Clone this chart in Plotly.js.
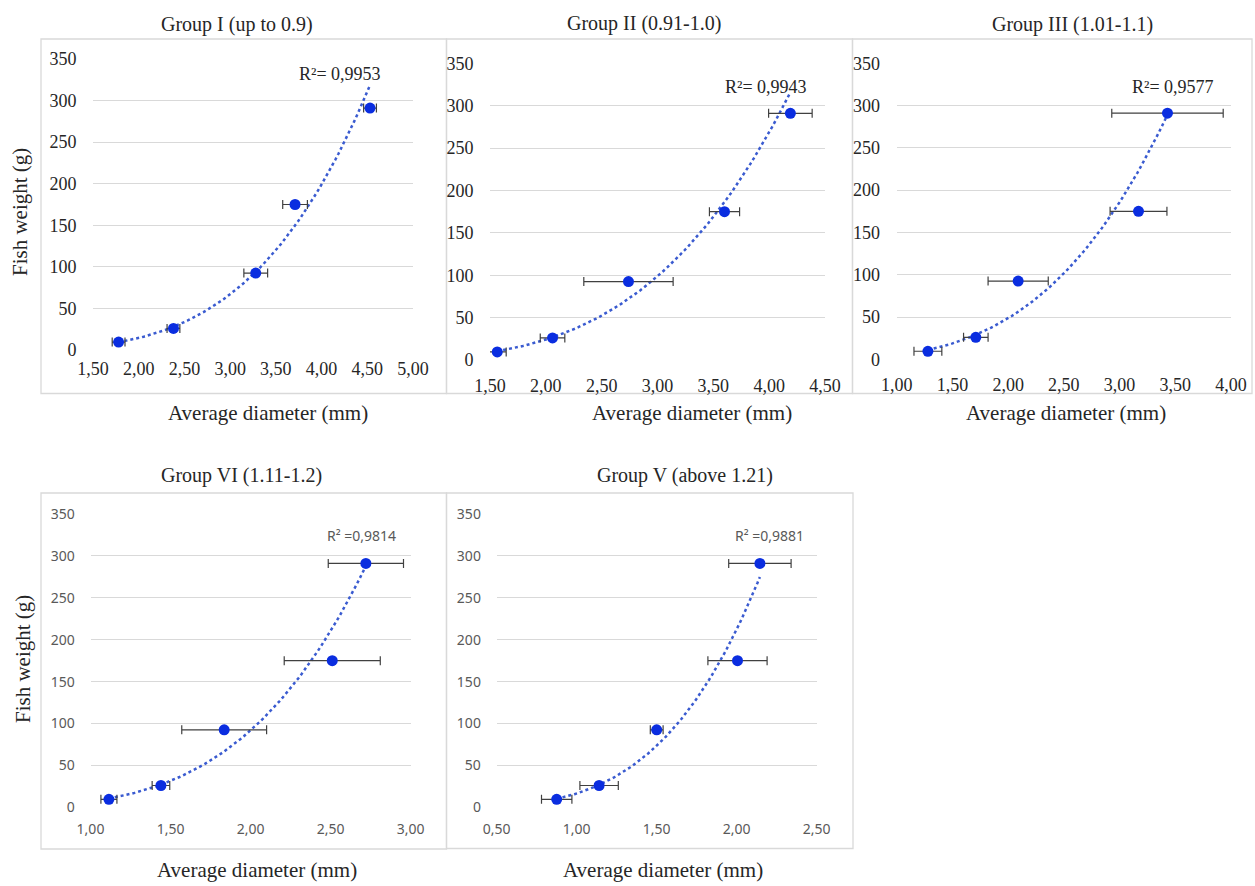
<!DOCTYPE html>
<html>
<head>
<meta charset="utf-8">
<script src="https://cdn.plot.ly/plotly-3.0.1.min.js"></script>
<style>html,body{margin:0;padding:0;background:#fff;}#chart{width:1255px;height:886px;}</style>
</head>
<body>
<div id="chart"></div>
<script>
// ---- data ----
const panelTitles = ["Group I (up to 0.9)", "Group II (0.91-1.0)", "Group III (1.01-1.1)", "Group VI (1.11-1.2)", "Group V (above 1.21)"];
const r2Labels = ["R²= 0,9953", "R²= 0,9943", "R²= 0,9577", "R² =0,9814", "R² =0,9881"];
const fishWeight = [9.5, 26, 92.5, 175, 291];
const diamI   = [1.78, 2.38, 3.28, 3.71, 4.53];
const errI    = [0.07, 0.07, 0.13, 0.135, 0.07];
const diamII  = [1.565, 2.06, 2.74, 3.60, 4.19];
const errII   = [0.08, 0.11, 0.40, 0.135, 0.195];
const diamIII = [1.28, 1.71, 2.09, 3.17, 3.43];
const errIII  = [0.125, 0.11, 0.27, 0.255, 0.50];
const diamVI  = [1.115, 1.44, 1.835, 2.51, 2.72];
const errVI   = [0.05, 0.055, 0.265, 0.30, 0.235];
const diamV   = [0.875, 1.14, 1.50, 2.005, 2.145];
const errV    = [0.095, 0.12, 0.04, 0.185, 0.195];
const xRanges = [[1.5, 5.0], [1.5, 4.5], [1.0, 4.0], [1.0, 3.0], [0.5, 2.5]];
const yRange = [0, 350];
const xTitle = "Average diameter (mm)";
const yTitle = "Fish weight (g)";

const diams = [diamI, diamII, diamIII, diamVI, diamV];
const errs = [errI, errII, errIII, errVI, errV];

// ---- layout geometry (pixels) ----
const W = 1255, H = 886;
const plotBoxes = [ // [left, right, top, bottom] of plotting area
  [93, 413, 59, 350],
  [490, 825, 63.3, 360],
  [896.7, 1231, 63.3, 359.3],
  [90.5, 410.7, 514, 807.3],
  [496.7, 816.7, 514, 807.3]
];
const frames = [
  [41, 446.5, 39, 393.5],
  [446.5, 852.5, 39, 393.5],
  [852.5, 1252, 39, 393.5],
  [41, 446.5, 493, 849],
  [446.5, 853, 493, 848.5]
];
const titlePos = [[237, 24], [644, 23.5], [1072, 24.5], [241, 475], [685, 475]];
const r2Pos = [[339.5, 74], [765.5, 87], [1173, 87], [361, 535.5], [769.5, 535.5]];
const xTitlePos = [[268, 413], [692, 413], [1066, 413], [257, 870], [663, 870]];
const yTitlePos = [[20, 212], [23, 659]];

const serif = "'Liberation Serif'";
const sans = "'Noto Sans'";

function px(x) { return x / W; }
function py(y) { return 1 - y / H; }

// power trendline (least squares on log-log), as Excel's power trendline
function powerFit(xs, ys) {
  const n = xs.length;
  let sx = 0, sy = 0, sxx = 0, sxy = 0;
  for (let i = 0; i < n; i++) {
    const lx = Math.log(xs[i]), ly = Math.log(ys[i]);
    sx += lx; sy += ly; sxx += lx * lx; sxy += lx * ly;
  }
  const b = (n * sxy - sx * sy) / (n * sxx - sx * sx);
  const a = Math.exp((sy - b * sx) / n);
  return { a, b };
}

const traces = [];
const layout = {
  width: W, height: H,
  margin: { l: 0, r: 0, t: 0, b: 0 },
  paper_bgcolor: "#ffffff",
  plot_bgcolor: "#ffffff",
  showlegend: false,
  separators: ",.",
  shapes: [],
  annotations: []
};

for (let i = 0; i < 5; i++) {
  const sfx = i === 0 ? "" : String(i + 1);
  const xa = "x" + sfx, ya = "y" + sfx;
  const box = plotBoxes[i];
  const bottomRow = i >= 3;
  const tickFont = bottomRow
    ? { family: sans, size: 14, color: "#595959" }
    : { family: serif, size: 18, color: "#262626" };

  // trendline
  const fit = powerFit(diams[i], fishWeight);
  const xmin = Math.min(...diams[i]), xmax = Math.max(...diams[i]);
  const tx = [], ty = [];
  for (let k = 0; k <= 80; k++) {
    const x = xmin + (xmax - xmin) * k / 80;
    tx.push(x); ty.push(fit.a * Math.pow(x, fit.b));
  }
  traces.push({
    type: "scatter", mode: "lines", x: tx, y: ty, xaxis: xa, yaxis: ya,
    line: { color: "#3a5bd0", width: 2.5, dash: "dot" }, hoverinfo: "skip"
  });

  // data points with horizontal error bars
  traces.push({
    type: "scatter", mode: "markers", x: diams[i], y: fishWeight, xaxis: xa, yaxis: ya,
    marker: { color: "#0a2de0", size: 11 },
    error_x: { type: "data", array: errs[i], visible: true, color: "#404040", thickness: 1.2, width: 4.5 }
  });

  layout["xaxis" + sfx] = {
    domain: [px(box[0]), px(box[1])],
    anchor: ya,
    range: xRanges[i],
    dtick: 0.5,
    tickformat: ".2f",
    showgrid: false,
    zeroline: false,
    showline: false,
    ticks: "outside",
    ticklen: bottomRow ? 9 : (i === 0 ? 2 : 9),
    tickcolor: "rgba(0,0,0,0)",
    tickfont: tickFont,
    fixedrange: true
  };
  layout["yaxis" + sfx] = {
    domain: [py(box[3]), py(box[2])],
    anchor: xa,
    range: yRange,
    dtick: 50,
    showgrid: true,
    gridcolor: "#d9d9d9",
    gridwidth: 1,
    zeroline: false,
    showline: false,
    ticks: "outside",
    ticklen: 12,
    tickcolor: "rgba(0,0,0,0)",
    tickfont: tickFont,
    fixedrange: true
  };

  const fr = frames[i];
  layout.shapes.push({
    type: "rect", xref: "paper", yref: "paper",
    x0: px(fr[0]), x1: px(fr[1]), y0: py(fr[3]), y1: py(fr[2]),
    line: { color: "#d9d9d9", width: 1.3 }, fillcolor: "rgba(0,0,0,0)", layer: "below"
  });

  layout.annotations.push({
    text: panelTitles[i], xref: "paper", yref: "paper",
    x: px(titlePos[i][0]), y: py(titlePos[i][1]), xanchor: "center", yanchor: "middle",
    showarrow: false, font: { family: serif, size: 20, color: "#262626" }
  });
  layout.annotations.push({
    text: r2Labels[i], xref: "paper", yref: "paper",
    x: px(r2Pos[i][0]), y: py(r2Pos[i][1]), xanchor: "center", yanchor: "middle",
    showarrow: false,
    font: bottomRow ? { family: sans, size: 14, color: "#595959" } : { family: serif, size: 18, color: "#262626" }
  });
  layout.annotations.push({
    text: xTitle, xref: "paper", yref: "paper",
    x: px(xTitlePos[i][0]), y: py(xTitlePos[i][1]), xanchor: "center", yanchor: "middle",
    showarrow: false, font: { family: serif, size: 21, color: "#262626" }
  });
}
for (let j = 0; j < yTitlePos.length; j++) {
  layout.annotations.push({
    text: yTitle, xref: "paper", yref: "paper",
    x: px(yTitlePos[j][0]), y: py(yTitlePos[j][1]), xanchor: "center", yanchor: "middle",
    textangle: -90, showarrow: false, font: { family: serif, size: 21, color: "#262626" }
  });
}

Plotly.newPlot("chart", traces, layout, { staticPlot: true, displayModeBar: false });
</script>
</body>
</html>
